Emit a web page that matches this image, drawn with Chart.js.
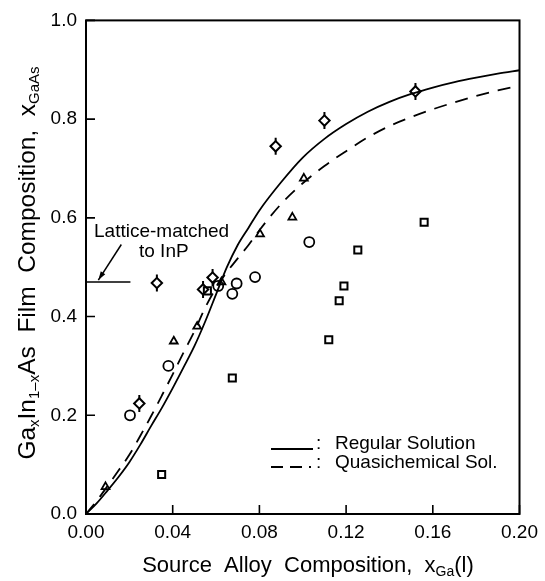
<!DOCTYPE html>
<html><head><meta charset="utf-8">
<script src="https://cdn.jsdelivr.net/npm/chart.js@4/dist/chart.umd.min.js"></script>
<style>html,body{margin:0;padding:0;background:#fff;}</style>
</head><body>
<canvas id="c" width="545" height="581"></canvas>
<script>
// ---- data ----
const curveX   = [0, 0.005, 0.01, 0.015, 0.02, 0.025, 0.03, 0.035, 0.04, 0.045, 0.05, 0.055, 0.06, 0.065, 0.07, 0.075, 0.08, 0.09, 0.10, 0.11, 0.12, 0.13, 0.14, 0.15, 0.16, 0.17, 0.18, 0.19, 0.20];
const regularY = [0, 0.022, 0.048, 0.075, 0.105, 0.14, 0.178, 0.215, 0.255, 0.297, 0.34, 0.39, 0.445, 0.5, 0.545, 0.58, 0.615, 0.672, 0.722, 0.76, 0.79, 0.815, 0.835, 0.851, 0.864, 0.875, 0.884, 0.892, 0.899];
const quasiY   = [0, 0.027, 0.057, 0.088, 0.12, 0.158, 0.198, 0.24, 0.283, 0.327, 0.37, 0.418, 0.458, 0.49, 0.518, 0.545, 0.575, 0.628, 0.67, 0.705, 0.735, 0.763, 0.786, 0.804, 0.82, 0.834, 0.847, 0.858, 0.868];

const diamondX  = [0.0246, 0.0327, 0.054, 0.0584, 0.0875, 0.110, 0.152];
const diamondY  = [0.224, 0.468, 0.455, 0.479, 0.745, 0.797, 0.856];
const circleX   = [0.0203, 0.038, 0.061, 0.0675, 0.0695, 0.078, 0.103];
const circleY   = [0.200, 0.300, 0.462, 0.446, 0.467, 0.480, 0.551];
const triangleX = [0.009, 0.0405, 0.0513, 0.0625, 0.0803, 0.0952, 0.1005];
const triangleY = [0.055, 0.350, 0.380, 0.470, 0.567, 0.601, 0.680];
const squareX   = [0.0349, 0.056, 0.0675, 0.112, 0.1168, 0.119, 0.1254, 0.156];
const squareY   = [0.080, 0.452, 0.2755, 0.353, 0.432, 0.462, 0.535, 0.591];

const latticeX = [0, 0.0205];
const latticeY = [0.47, 0.47];

const xTicks = [0, 0.04, 0.08, 0.12, 0.16, 0.20];
const yTicks = [0, 0.2, 0.4, 0.6, 0.8, 1.0];

const legendLabels = ['Regular Solution', 'Quasichemical Sol.'];
const annotationLines = ['Lattice-matched', 'to InP'];
const xTitle = [{t:'Source  Alloy  Composition,  x'}, {t:'Ga', sub:true}, {t:'(l)'}];
const yTitle = [{t:'Ga'}, {t:'x', sub:true}, {t:'In'}, {t:'1\u2013x', sub:true}, {t:'As  Film  Composition,  x'}, {t:'GaAs', sub:true}];

// ---- helpers ----
const pts = (xs, ys) => xs.map((x, i) => ({x, y: ys[i]}));
const FONT = '"Liberation Sans", Arial, sans-serif';

function richWidth(ctx, segs, size) {
  let w = 0;
  for (const s of segs) {
    ctx.font = (s.sub ? Math.round(size * 0.62) : size) + 'px ' + FONT;
    w += ctx.measureText(s.t).width;
  }
  return w;
}
function drawRich(ctx, segs, cx, cy, size) {
  const w = richWidth(ctx, segs, size);
  let x = cx - w / 2;
  ctx.textBaseline = 'middle';
  ctx.textAlign = 'left';
  for (const s of segs) {
    const fs = s.sub ? Math.round(size * 0.62) : size;
    ctx.font = fs + 'px ' + FONT;
    ctx.fillText(s.t, x, s.sub ? cy + size * 0.28 : cy);
    x += ctx.measureText(s.t).width;
  }
}
function fitSize(ctx, segs, target) {
  return Math.round(21 * target / richWidth(ctx, segs, 21) * 2) / 2;
}

const decor = {
  id: 'decor',
  afterDraw(chart) {
    const ctx = chart.ctx, a = chart.chartArea;
    const xs = chart.scales.x, ys = chart.scales.y;
    ctx.save();
    ctx.strokeStyle = '#000'; ctx.fillStyle = '#000';
    // frame
    ctx.lineWidth = 2;
    ctx.strokeRect(a.left, a.top, a.right - a.left, a.bottom - a.top);
    // inward ticks
    ctx.lineWidth = 1.6;
    ctx.beginPath();
    for (const v of xTicks) { const p = xs.getPixelForValue(v); ctx.moveTo(p, a.bottom); ctx.lineTo(p, a.bottom - 9); }
    for (const v of yTicks) { const p = ys.getPixelForValue(v); ctx.moveTo(a.left, p); ctx.lineTo(a.left + 9, p); }
    ctx.stroke();
    // legend
    ctx.lineWidth = 1.8;
    ctx.beginPath(); ctx.moveTo(271, 449); ctx.lineTo(313, 449); ctx.stroke();
    ctx.setLineDash([12, 7]);
    ctx.beginPath(); ctx.moveTo(271, 467); ctx.lineTo(311, 467); ctx.stroke();
    ctx.setLineDash([]);
    ctx.font = '19px ' + FONT; ctx.textBaseline = 'middle'; ctx.textAlign = 'left';
    ctx.fillText(':', 316, 444); ctx.fillText(legendLabels[0], 335, 444);
    ctx.fillText(':', 316, 463); ctx.fillText(legendLabels[1], 335, 463);
    // annotation
    ctx.fillText(annotationLines[0], 94, 232);
    ctx.fillText(annotationLines[1], 139, 252);
    const x1 = xs.getPixelForValue(0.0163), y1 = ys.getPixelForValue(0.546);
    const x2 = xs.getPixelForValue(0.0057), y2 = ys.getPixelForValue(0.474);
    ctx.lineWidth = 1.5;
    ctx.beginPath(); ctx.moveTo(x1, y1); ctx.lineTo(x2, y2); ctx.stroke();
    const ang = Math.atan2(y2 - y1, x2 - x1);
    ctx.beginPath();
    ctx.moveTo(x2, y2);
    ctx.lineTo(x2 - 9 * Math.cos(ang - 0.3), y2 - 9 * Math.sin(ang - 0.3));
    ctx.lineTo(x2 - 9 * Math.cos(ang + 0.3), y2 - 9 * Math.sin(ang + 0.3));
    ctx.closePath(); ctx.fill();
    // axis titles
    drawRich(ctx, xTitle, 308, 566, fitSize(ctx, xTitle, 330));
    ctx.translate(28, 263); ctx.rotate(-Math.PI / 2);
    drawRich(ctx, yTitle, 0, 0, fitSize(ctx, yTitle, 395));
    ctx.restore();
  }
};

const lineDs = (data, dash) => ({
  type: 'scatter', data, showLine: true, pointRadius: 0, borderColor: '#000', order: 0,
  borderWidth: 1.8, borderDash: dash, cubicInterpolationMode: 'monotone', fill: false
});
const markDs = (data, style, r, bw, order, fill, rot) => ({
  type: 'scatter', data, pointStyle: style, pointRadius: r, pointBorderColor: '#000', order,
  pointBackgroundColor: fill || 'rgba(0,0,0,0)', pointBorderWidth: bw, pointRotation: rot || 0, showLine: false
});

new Chart(document.getElementById('c'), {
  type: 'scatter',
  data: {
    datasets: [
      lineDs(pts(curveX, regularY), []),
      lineDs(pts(curveX, quasiY), [13, 9]),
      {type: 'scatter', data: pts(latticeX, latticeY), showLine: true, pointRadius: 0, borderColor: '#000', borderWidth: 1.5, order: 0},
      markDs(pts(diamondX, diamondY), 'line', 8.5, 2, 3, null, 90),
      markDs(pts(diamondX, diamondY), 'rectRot', 5.2, 2, 2, '#fff'),
      markDs(pts(circleX, circleY), 'circle', 5, 1.8, 1),
      markDs(pts(triangleX, triangleY), 'triangle', 4.5, 1.8, 1),
      markDs(pts(squareX, squareY), 'rect', 5, 2, 1)
    ]
  },
  options: {
    responsive: false, animation: false, devicePixelRatio: 1,
    layout: {padding: {left: 40, right: 21, top: 16, bottom: 27}},
    plugins: {legend: {display: false}, tooltip: {enabled: false}},
    scales: {
      x: {
        type: 'linear', min: 0, max: 0.2,
        afterBuildTicks: s => { s.ticks = xTicks.map(v => ({value: v})); },
        afterFit: s => { s.height = 40; },
        grid: {display: false, drawTicks: false}, border: {display: false},
        ticks: {color: '#000', padding: 7, maxRotation: 0, font: {family: FONT, size: 19}, callback: v => Number(v).toFixed(2)}
      },
      y: {
        type: 'linear', min: 0, max: 1,
        afterBuildTicks: s => { s.ticks = yTicks.map(v => ({value: v})); },
        afterFit: s => { s.width = 46; },
        grid: {display: false, drawTicks: false}, border: {display: false},
        ticks: {color: '#000', padding: 9, font: {family: FONT, size: 19}, callback: v => Number(v).toFixed(1)}
      }
    }
  },
  plugins: [decor]
});
</script>
</body></html>
